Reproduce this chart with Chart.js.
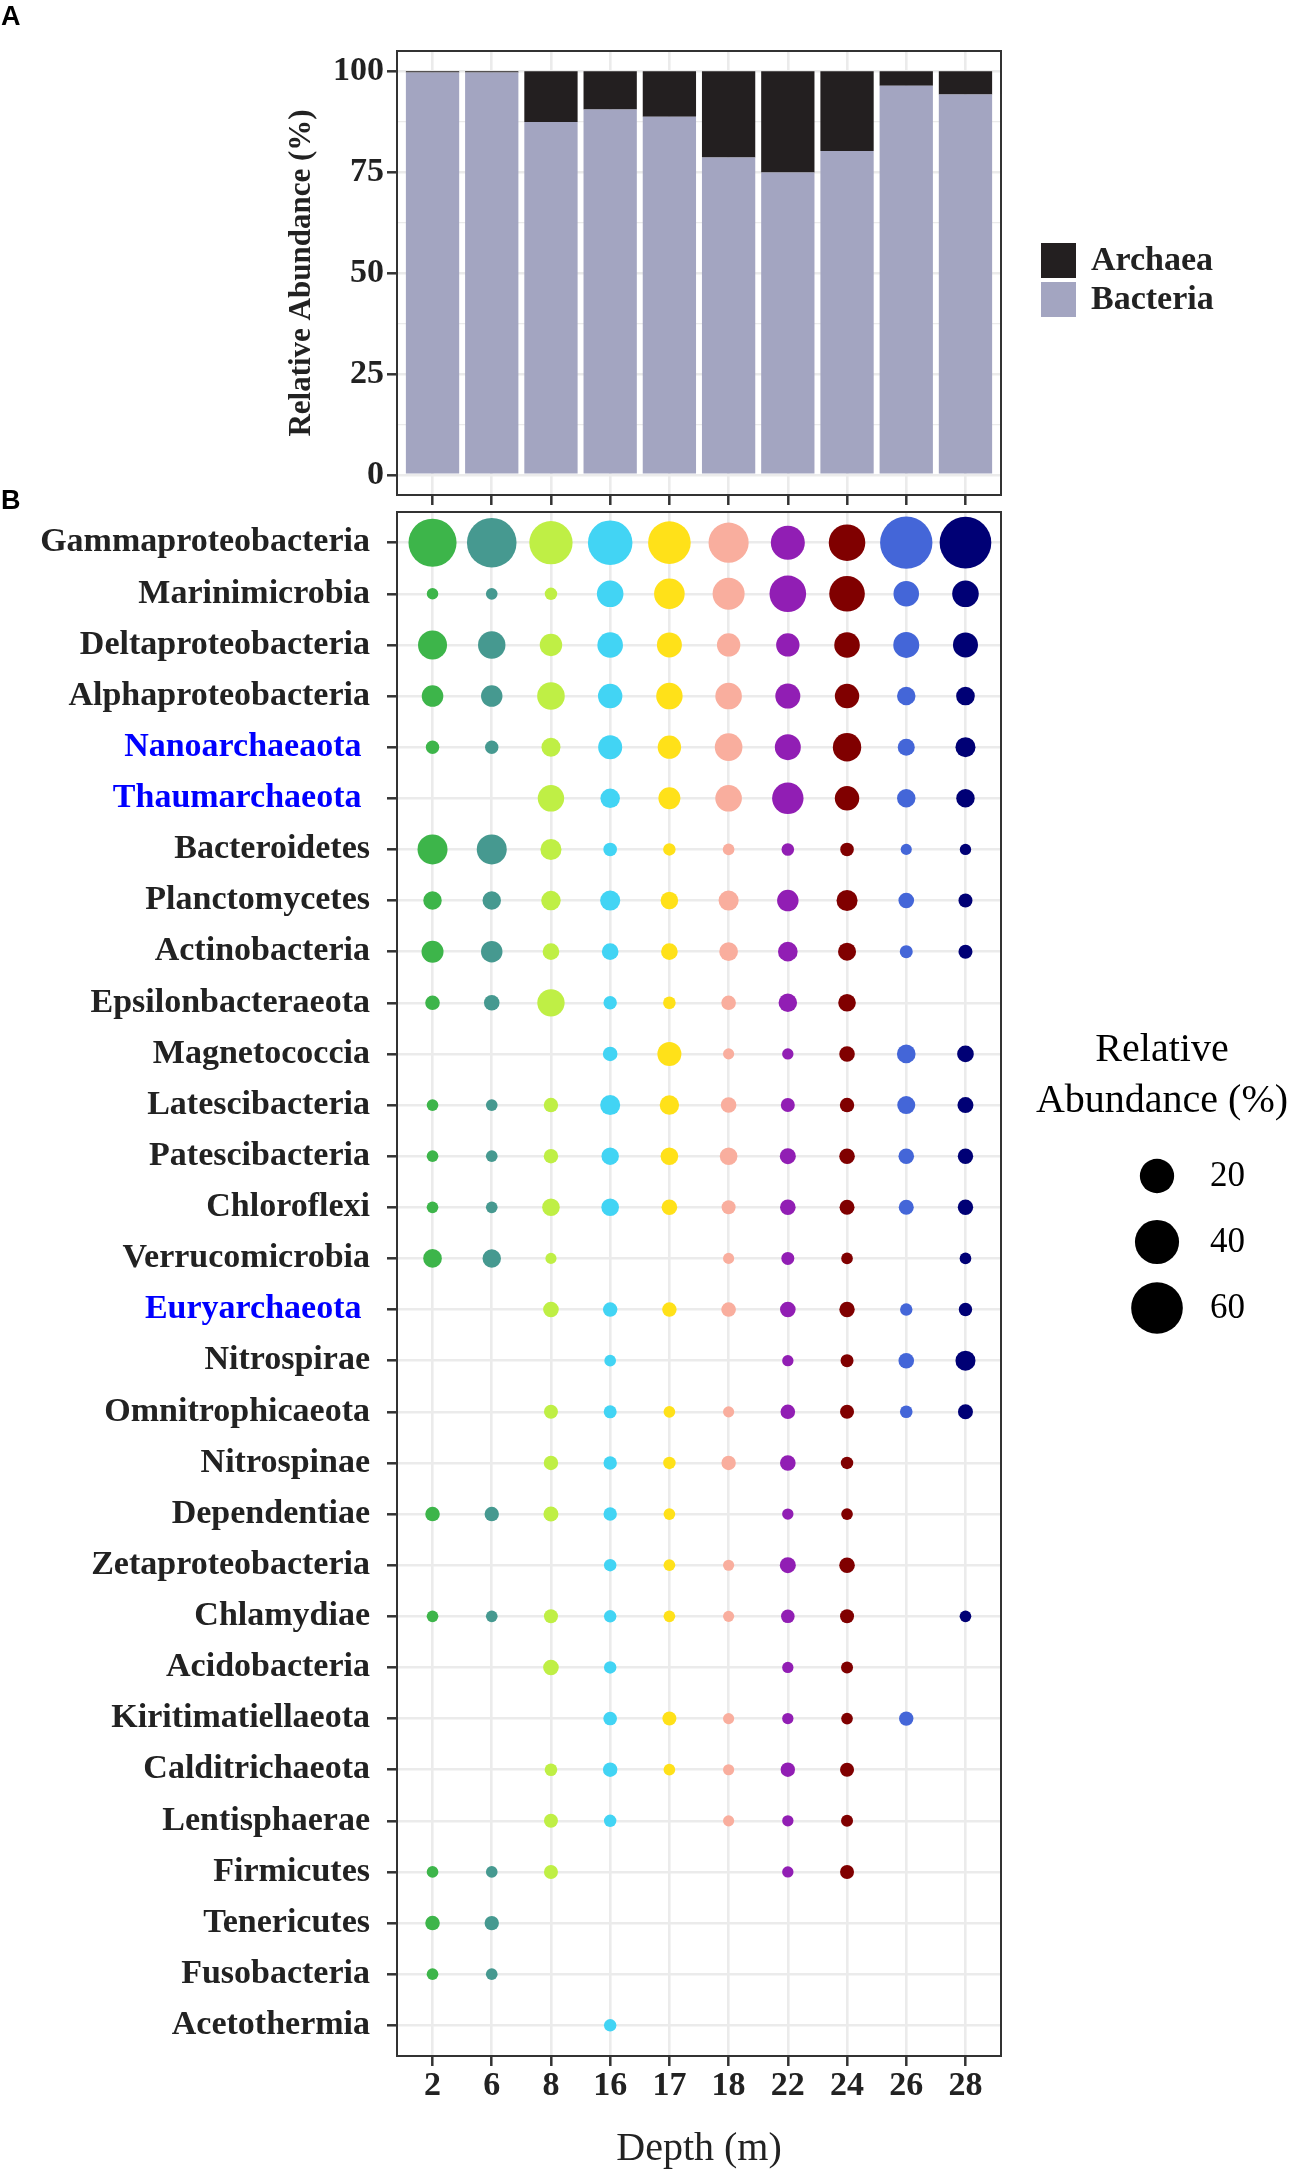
<!DOCTYPE html>
<html>
<head>
<meta charset="utf-8">
<script src="https://cdn.jsdelivr.net/npm/chart.js@4/dist/chart.umd.min.js"></script>
<style>
  html, body { margin: 0; padding: 0; background: #fff; }
  #wrap { position: relative; width: 1299px; height: 2176px; overflow: hidden; }
  canvas { position: absolute; left: 0; top: 0; }
</style>
</head>
<body>
<div id="wrap">
  <canvas id="bubbleChart" width="1299" height="2176"></canvas>
  <canvas id="barChart" width="1299" height="520"></canvas>
</div>
<script>
// --- data ---
const DEPTHS = ['2', '6', '8', '16', '17', '18', '22', '24', '26', '28'];

// panel A: domain share per depth (%)
const BACTERIA = [99.7, 99.7, 87.4, 90.5, 88.7, 78.6, 74.9, 80.2, 96.4, 94.2];
const ARCHAEA  = [0.3, 0.3, 12.6, 9.5, 11.3, 21.4, 25.1, 19.8, 3.6, 5.8];
const Y_TICKS_A = [0, 12.5, 25, 37.5, 50, 62.5, 75, 87.5, 100];

// panel B: phylum relative abundance (%), one row per phylum, columns follow DEPTHS
const PHYLA = [
  'Gammaproteobacteria', 'Marinimicrobia', 'Deltaproteobacteria', 'Alphaproteobacteria',
  'Nanoarchaeaota', 'Thaumarchaeota', 'Bacteroidetes', 'Planctomycetes', 'Actinobacteria',
  'Epsilonbacteraeota', 'Magnetococcia', 'Latescibacteria', 'Patescibacteria', 'Chloroflexi',
  'Verrucomicrobia', 'Euryarchaeota', 'Nitrospirae', 'Omnitrophicaeota', 'Nitrospinae',
  'Dependentiae', 'Zetaproteobacteria', 'Chlamydiae', 'Acidobacteria', 'Kiritimatiellaeota',
  'Calditrichaeota', 'Lentisphaerae', 'Firmicutes', 'Tenericutes', 'Fusobacteria', 'Acetothermia'
];
const ARCHAEAL_PHYLA = ['Nanoarchaeaota', 'Thaumarchaeota', 'Euryarchaeota'];

const ABUNDANCE = [
  [50.0, 54.0, 38.0, 41.0, 36.5, 31.0, 19.5, 24.0, 62.0, 60.0],  // Gammaproteobacteria
  [0.03, 0.04, 0.12, 9.1, 14.2, 16.3, 24.1, 22.2, 8.0, 9.1],     // Marinimicrobia
  [12.1, 10.1, 5.0, 8.0, 7.4, 5.8, 5.8, 8.0, 8.4, 7.4],          // Deltaproteobacteria
  [4.3, 4.2, 10.3, 6.8, 8.9, 9.1, 7.4, 6.8, 2.2, 2.3],           // Alphaproteobacteria
  [0.28, 0.28, 2.5, 6.4, 5.8, 10.3, 8.4, 11.3, 1.46, 3.15],      // Nanoarchaeaota
  [null, null, 8.9, 2.8, 4.6, 9.1, 15.4, 6.8, 2.2, 2.2],         // Thaumarchaeota
  [13.4, 13.4, 3.9, 0.32, 0.12, 0.04, 0.14, 0.32, 0.01, 0.02],   // Bacteroidetes
  [2.2, 2.2, 2.8, 3.2, 1.7, 3.2, 4.2, 3.9, 0.9, 0.41],           // Planctomycetes
  [4.6, 4.2, 1.3, 1.3, 1.3, 2.3, 2.9, 1.95, 0.2, 0.41],          // Actinobacteria
  [0.57, 0.89, 10.0, 0.28, 0.14, 0.57, 2.2, 1.75, null, null],   // Epsilonbacteraeota
  [null, null, null, 0.57, 6.4, 0.01, 0.02, 0.89, 2.3, 1.3],     // Magnetococcia
  [0.04, 0.04, 0.51, 3.15, 2.76, 0.89, 0.41, 0.51, 1.95, 1.04],  // Latescibacteria
  [0.04, 0.04, 0.51, 1.65, 1.75, 1.75, 1.04, 0.89, 0.89, 0.82],  // Patescibacteria
  [0.04, 0.04, 1.75, 1.75, 0.89, 0.41, 0.89, 0.69, 0.69, 0.82],  // Chloroflexi
  [2.3, 2.2, 0.01, null, null, 0.01, 0.2, 0.04, null, 0.04],     // Verrucomicrobia
  [null, null, 0.89, 0.51, 0.51, 0.57, 0.89, 0.82, 0.12, 0.28],  // Euryarchaeota
  [null, null, null, 0.04, null, null, 0.02, 0.2, 0.89, 3.15],   // Nitrospirae
  [null, null, 0.41, 0.2, 0.04, 0.01, 0.57, 0.41, 0.14, 0.69],   // Omnitrophicaeota
  [null, null, 0.51, 0.28, 0.12, 0.51, 0.89, 0.12, null, null],  // Nitrospinae
  [0.57, 0.51, 0.69, 0.28, 0.04, null, 0.02, 0.04, null, null],  // Dependentiae
  [null, null, null, 0.12, 0.04, 0.01, 1.04, 0.89, null, null],  // Zetaproteobacteria
  [0.04, 0.04, 0.41, 0.12, 0.04, 0.01, 0.32, 0.41, null, 0.04],  // Chlamydiae
  [null, null, 0.89, 0.12, null, null, 0.02, 0.07, null, null],  // Acidobacteria
  [null, null, null, 0.32, 0.41, 0.01, 0.02, 0.04, 0.51, null],  // Kiritimatiellaeota
  [null, null, 0.14, 0.51, 0.04, 0.01, 0.51, 0.41, null, null],  // Calditrichaeota
  [null, null, 0.41, 0.12, null, 0.01, 0.02, 0.07, null, null],  // Lentisphaerae
  [0.04, 0.04, 0.41, null, null, null, 0.02, 0.41, null, null],  // Firmicutes
  [0.57, 0.51, null, null, null, null, null, null, null, null],  // Tenericutes
  [0.04, 0.04, null, null, null, null, null, null, null, null],  // Fusobacteria
  [null, null, null, 0.12, null, null, null, null, null, null]   // Acetothermia
];
const SIZE_BREAKS = [20, 40, 60];

// --- styling ---
const SERIF = "'Liberation Serif', 'Times New Roman', serif";
const DEPTH_COLORS = ['#3db54a', '#469990', '#bfef45', '#42d4f4', '#ffe119',
                      '#f9ae9e', '#911eb4', '#800000', '#4466d8', '#000075'];
const ARCHAEA_COLOR = '#231f20';
const BACTERIA_COLOR = '#a3a5c1';
const GRID = '#ebebeb';
const INK = '#222222';
const AXIS_DARK = '#333333';

Chart.defaults.font.family = SERIF;
Chart.defaults.color = INK;

// ggplot-like size scale: radius grows with sqrt of abundance
const bubbleRadius = v => 5.3 + 2.65 * Math.sqrt(v);

// box round the panel, drawn over everything
const panelBox = {
  id: 'panelBox',
  afterDraw(chart) {
    const { ctx, chartArea: a } = chart;
    ctx.save();
    ctx.strokeStyle = AXIS_DARK;
    ctx.lineWidth = 2;
    ctx.strokeRect(a.left, a.top, a.right - a.left, a.bottom - a.top);
    ctx.restore();
  }
};

function panelTag(text, y) {
  return {
    id: 'tag' + text,
    afterDraw(chart) {
      const ctx = chart.ctx;
      ctx.save();
      ctx.font = "bold 27px 'Liberation Sans', Arial, sans-serif";
      ctx.fillStyle = '#000';
      ctx.textBaseline = 'alphabetic';
      ctx.fillText(text, 1, y);
      ctx.restore();
    }
  };
}

// --- Panel A: stacked bars ---
const domainLegend = {
  id: 'domainLegend',
  afterDraw(chart) {
    const { ctx, chartArea: a } = chart;
    const items = [['Archaea', ARCHAEA_COLOR], ['Bacteria', BACTERIA_COLOR]];
    const x0 = a.right + 40;
    let y0 = 243;
    ctx.save();
    ctx.font = 'bold 34px ' + SERIF;
    ctx.textBaseline = 'middle';
    items.forEach(([label, color]) => {
      ctx.fillStyle = color;
      ctx.fillRect(x0, y0, 35, 35);
      ctx.fillStyle = INK;
      ctx.fillText(label, x0 + 50, y0 + 18);
      y0 += 39;
    });
    ctx.restore();
  }
};

new Chart(document.getElementById('barChart'), {
  type: 'bar',
  data: {
    datasets: [
      { label: 'Bacteria', data: BACTERIA.map((v, i) => ({ x: i, y: v })), backgroundColor: BACTERIA_COLOR },
      { label: 'Archaea', data: ARCHAEA.map((v, i) => ({ x: i, y: v })), backgroundColor: ARCHAEA_COLOR }
    ]
  },
  options: {
    responsive: false,
    animation: false,
    events: [],
    layout: { padding: { left: 0, top: 51, right: 298, bottom: 15 } },
    datasets: { bar: { barPercentage: 0.9, categoryPercentage: 1, borderWidth: 0 } },
    plugins: { legend: { display: false }, tooltip: { enabled: false } },
    scales: {
      x: {
        type: 'linear', stacked: true, offset: false, min: -0.6, max: 9.6,
        afterBuildTicks: s => { s.ticks = DEPTHS.map((d, i) => ({ value: i })); },
        afterFit: s => { s.height = 10; },
        ticks: { callback: () => '', padding: 0 },
        grid: { offset: false, color: GRID, lineWidth: 2.6, tickLength: 10, tickColor: AXIS_DARK, tickWidth: 2.5 },
        border: { display: false }
      },
      y: {
        stacked: true, min: -5, max: 105,
        afterBuildTicks: s => { s.ticks = Y_TICKS_A.map(v => ({ value: v })); },
        afterFit: s => { s.width = 397; },
        ticks: {
          callback: v => (v % 25 === 0 ? v : ''),
          font: { size: 34, weight: 'bold' }, color: INK, padding: 3
        },
        grid: {
          color: GRID,
          lineWidth: c => (c.tick && c.tick.value % 25 === 0 ? 2.6 : 1.3),
          tickLength: 10,
          tickColor: c => (c.tick && c.tick.value % 25 === 0 ? AXIS_DARK : 'rgba(0,0,0,0)'),
          tickWidth: 2.5
        },
        border: { display: false },
        title: {
          display: true, text: 'Relative Abundance (%)', color: INK,
          font: { size: 31, weight: 'bold' }, padding: { top: 283, bottom: 0 }
        }
      }
    }
  },
  plugins: [panelBox, domainLegend, panelTag('A', 25)]
});

// --- Panel B: bubble grid ---
const sizeLegend = {
  id: 'sizeLegend',
  afterDraw(chart) {
    const ctx = chart.ctx;
    const cx = 1157;
    ctx.save();
    ctx.fillStyle = '#000';
    ctx.font = '40px ' + SERIF;
    ctx.textAlign = 'center';
    ctx.textBaseline = 'alphabetic';
    ctx.fillText('Relative', 1162, 1061);
    ctx.fillText('Abundance (%)', 1162, 1112);
    ctx.font = '35px ' + SERIF;
    ctx.textAlign = 'left';
    ctx.textBaseline = 'middle';
    SIZE_BREAKS.forEach((v, k) => {
      const cy = 1176 + k * 66;
      ctx.beginPath();
      ctx.arc(cx, cy, bubbleRadius(v), 0, Math.PI * 2);
      ctx.fill();
      ctx.fillText(String(v), 1210, cy + 1);
    });
    ctx.restore();
  }
};

const bubbleSets = DEPTHS.map((d, j) => ({
  label: d + ' m',
  data: PHYLA.map((p, i) => {
    const v = ABUNDANCE[i][j];
    return v == null ? null : { x: j, y: i, r: bubbleRadius(v) };
  }).filter(Boolean),
  backgroundColor: DEPTH_COLORS[j],
  borderWidth: 0,
  hoverBorderWidth: 0
}));

new Chart(document.getElementById('bubbleChart'), {
  type: 'bubble',
  data: { datasets: bubbleSets },
  options: {
    responsive: false,
    animation: false,
    events: [],
    layout: { padding: { left: 0, top: 512, right: 298, bottom: 0 } },
    plugins: { legend: { display: false }, tooltip: { enabled: false } },
    scales: {
      x: {
        type: 'linear', min: -0.6, max: 9.6,
        afterBuildTicks: s => { s.ticks = DEPTHS.map((d, i) => ({ value: i })); },
        afterFit: s => { s.height = 120; },
        ticks: {
          callback: v => DEPTHS[v], autoSkip: false, maxRotation: 0,
          font: { size: 34, weight: 'bold' }, color: INK, padding: 0
        },
        grid: { color: GRID, lineWidth: 2.6, tickLength: 10, tickColor: AXIS_DARK, tickWidth: 2.5 },
        border: { display: false },
        title: {
          display: true, text: 'Depth (m)', color: INK,
          font: { size: 40 }, padding: { top: 0, bottom: 3 }
        }
      },
      y: {
        type: 'linear', reverse: true, min: -0.6, max: 29.6,
        afterBuildTicks: s => { s.ticks = PHYLA.map((p, i) => ({ value: i })); },
        afterFit: s => { s.width = 397; },
        ticks: {
          callback: v => PHYLA[v] + (ARCHAEAL_PHYLA.includes(PHYLA[v]) ? ' ' : ''),
          autoSkip: false,
          font: { size: 34, weight: 'bold' },
          color: c => (ARCHAEAL_PHYLA.includes(PHYLA[c.tick.value]) ? '#0000ff' : INK),
          padding: 17
        },
        grid: { color: GRID, lineWidth: 2.6, tickLength: 10, tickColor: AXIS_DARK, tickWidth: 2.5 },
        border: { display: false }
      }
    }
  },
  plugins: [panelBox, sizeLegend, panelTag('B', 509)]
});
</script>
</body>
</html>
